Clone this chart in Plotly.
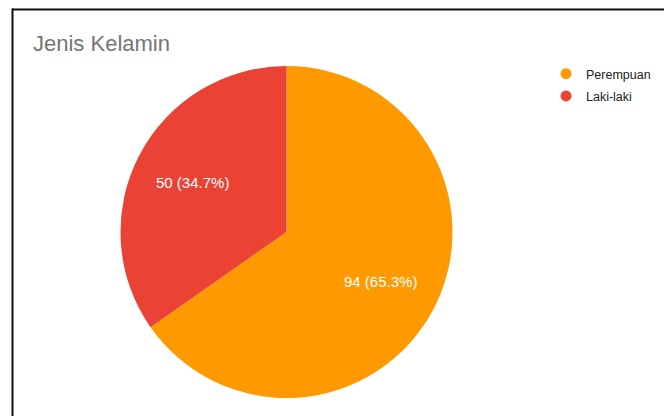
import math
import plotly.graph_objects as go

W, H = 664, 416
labels = ["Perempuan", "Laki-laki"]
values = [94, 50]
colors = ["#FF9900", "#EA4335"]
title_text = "Jenis Kelamin"

# pie placement in pixels
cx, cy, R = 286.5, 232, 166
label_r = 0.64

fig = go.Figure()
fig.add_trace(go.Pie(
    labels=labels, values=values, sort=False, direction="clockwise", rotation=0,
    marker=dict(colors=colors, line=dict(width=0)),
    textinfo="none",
    showlegend=False, hoverinfo="label+value+percent",
    domain=dict(x=[(cx - R) / W, (cx + R) / W], y=[1 - (cy + R) / H, 1 - (cy - R) / H]),
))
for i, (lab, col) in enumerate(zip(labels, colors)):
    fig.add_trace(go.Scatter(
        x=[None], y=[None], mode="markers", name=lab, legendgroup=lab,
        marker=dict(symbol="circle", size=11, color=col), showlegend=True,
    ))

# slice labels placed along each slice's mid-angle
total = sum(values)
annotations = []
cum = 0
for v in values:
    mid = (cum + v / 2) / total * 2 * math.pi
    cum += v
    px = cx + label_r * R * math.sin(mid)
    py = cy - label_r * R * math.cos(mid)
    annotations.append(dict(
        x=px / W, y=1 - py / H, xref="paper", yref="paper", showarrow=False,
        text=f"{v} ({v / total * 100:.1f}%)", xanchor="center", yanchor="middle",
        font=dict(family="Arial", size=15, color="#ffffff"),
    ))

fig.update_layout(
    width=W, height=H, margin=dict(l=0, r=0, t=0, b=0),
    paper_bgcolor="#ffffff", plot_bgcolor="#ffffff",
    xaxis=dict(visible=False), yaxis=dict(visible=False),
    title=dict(text=title_text, x=33 / W, xanchor="left", xref="paper",
               y=1 - 43 / H, yanchor="middle", yref="container",
               font=dict(family="Arial", size=22, color="#757575")),
    legend=dict(x=546 / W, y=1 - 59 / H, xanchor="left", yanchor="top",
                font=dict(family="Arial", size=12.5, color="#222222"),
                tracegroupgap=3, traceorder="grouped", bgcolor="rgba(0,0,0,0)"),
    annotations=annotations,
    shapes=[
        dict(type="line", xref="paper", yref="paper", x0=12 / W, x1=1, y0=1 - 9.5 / H, y1=1 - 9.5 / H,
             line=dict(color="#111111", width=2)),
        dict(type="line", xref="paper", yref="paper", x0=12.5 / W, x1=12.5 / W, y0=0, y1=1 - 8.5 / H,
             line=dict(color="#111111", width=2)),
    ],
)
fig.write_html("out.html")
